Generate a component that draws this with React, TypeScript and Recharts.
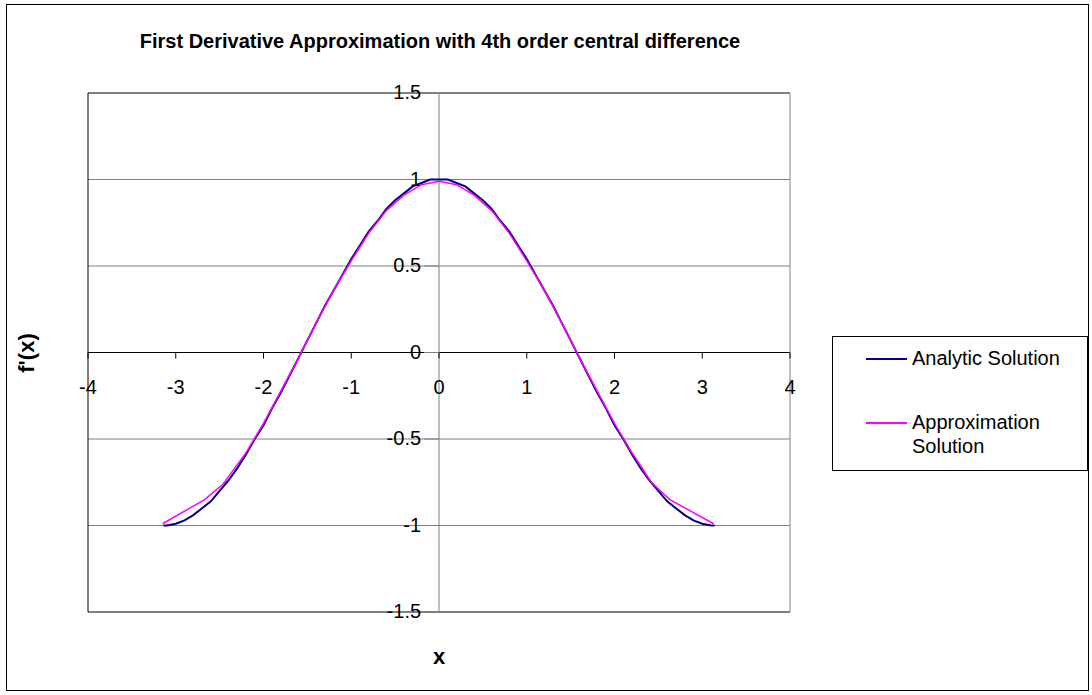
import { LineChart, Line, XAxis, YAxis, ReferenceLine } from 'recharts';

// x values and f'(x)
const analyticX = [
  -3.14, -3.1, -3.0, -2.9, -2.8, -2.7, -2.6, -2.5, -2.4, -2.3, -2.2, -2.1, -2.0, -1.9, -1.8, -1.7, -1.6, -1.5,
  -1.4, -1.3, -1.2, -1.1, -1.0, -0.9, -0.8, -0.7, -0.6, -0.5, -0.4, -0.3, -0.2, -0.1, 0, 0.1, 0.2, 0.3, 0.4,
  0.5, 0.6, 0.7, 0.8, 0.9, 1.0, 1.1, 1.2, 1.3, 1.4, 1.5, 1.6, 1.7, 1.8, 1.9, 2.0, 2.1, 2.2, 2.3, 2.4, 2.5, 2.6,
  2.7, 2.8, 2.9, 3.0, 3.1, 3.14,
];
const analyticY = [
  -1.0, -1.0, -0.99, -0.97, -0.94, -0.9, -0.86, -0.8, -0.74, -0.67, -0.59, -0.5, -0.42, -0.32, -0.23, -0.13,
  -0.03, 0.07, 0.17, 0.27, 0.36, 0.45, 0.54, 0.62, 0.7, 0.76, 0.83, 0.88, 0.92, 0.96, 0.98, 1.0, 1.0, 1.0, 0.98,
  0.96, 0.92, 0.88, 0.83, 0.76, 0.7, 0.62, 0.54, 0.45, 0.36, 0.27, 0.17, 0.07, -0.03, -0.13, -0.23, -0.32, -0.42,
  -0.5, -0.59, -0.67, -0.74, -0.8, -0.86, -0.9, -0.94, -0.97, -0.99, -1.0, -1.0,
];
const approxX = [
  -3.15, -2.67, -2.46, -2.2, -2.0, -1.8, -1.6, -1.4, -1.2, -1.0, -0.8, -0.6, -0.4, -0.2, 0, 0.2, 0.4, 0.6, 0.8,
  1.0, 1.2, 1.4, 1.6, 1.8, 2.0, 2.2, 2.42, 2.63, 3.13,
];
const approxY = [
  -0.99, -0.85, -0.76, -0.58, -0.41, -0.22, -0.03, 0.17, 0.36, 0.53, 0.69, 0.82, 0.91, 0.97, 0.99, 0.97, 0.91,
  0.82, 0.69, 0.53, 0.36, 0.17, -0.03, -0.22, -0.41, -0.58, -0.75, -0.85, -0.99,
];
const xTicks = [-4, -3, -2, -1, 0, 1, 2, 3, 4];
const yTicks = [-1.5, -1, -0.5, 0, 0.5, 1, 1.5];

const analytic = analyticX.map((x, i) => ({ x, y: analyticY[i] }));
const approx = approxX.map((x, i) => ({ x, y: approxY[i] }));

const FONT = 'Arial, "Liberation Sans", Helvetica, sans-serif';

function XTickLabel({ viewBox, value }: any) {
  return (
    <text x={viewBox.x} y={viewBox.y + 41} textAnchor="middle" fontSize={20} fontFamily={FONT} fill="#000">
      {value}
    </text>
  );
}

function YTickLabel({ viewBox, value }: any) {
  return (
    <text x={viewBox.x - 3} y={viewBox.y + 6} textAnchor="end" fontSize={20} fontFamily={FONT} fill="#000">
      {value}
    </text>
  );
}

function LegendBox() {
  const row = (color: string, label: string[]) => (
    <div style={{ display: 'flex', alignItems: 'flex-start', marginLeft: 33 }}>
      <div style={{ width: 41, height: 0, borderTop: `2px solid ${color}`, marginTop: 10 }} />
      <div style={{ marginLeft: 5, lineHeight: '24px', marginTop: -2 }}>
        {label.map((l) => (
          <div key={l}>{l}</div>
        ))}
      </div>
    </div>
  );
  return (
    <div
      style={{
        position: 'absolute',
        left: 832,
        top: 336,
        width: 254,
        height: 122,
        border: '1px solid #000',
        fontFamily: FONT,
        fontSize: 20,
        color: '#000',
        paddingTop: 11,
        background: '#fff',
      }}
    >
      {row('#000080', ['Analytic Solution'])}
      <div style={{ height: 42 }} />
      {row('#FF00FF', ['Approximation', 'Solution'])}
    </div>
  );
}

export default function App() {
  return (
    <div style={{ position: 'absolute', left: 0, top: 0, width: 1092, height: 695, background: '#fff' }}>
      <div
        style={{
          position: 'absolute',
          left: 6,
          top: 4,
          width: 1081,
          height: 685,
          border: '1px solid #000',
        }}
      />
      <div
        style={{
          position: 'absolute',
          left: 0,
          width: 880,
          top: 30,
          textAlign: 'center',
          fontFamily: FONT,
          fontWeight: 'bold',
          fontSize: 20,
        }}
      >
        First Derivative Approximation with 4th order central difference
      </div>
      <div
        style={{
          position: 'absolute',
          left: 27,
          top: 353,
          transform: 'translate(-50%, -50%) rotate(-90deg)',
          fontFamily: FONT,
          fontWeight: 'bold',
          fontSize: 22,
        }}
      >
        f'(x)
      </div>
      <div
        style={{
          position: 'absolute',
          left: 439,
          top: 657,
          transform: 'translate(-50%, -50%)',
          fontFamily: FONT,
          fontWeight: 'bold',
          fontSize: 22,
        }}
      >
        x
      </div>
      <LineChart
        width={1092}
        height={695}
        margin={{ top: 93, left: 88, right: 302, bottom: 83 }}
        style={{ position: 'absolute', left: 0, top: 0 }}
      >
        <XAxis type="number" dataKey="x" domain={[-4, 4]} hide allowDataOverflow />
        <YAxis type="number" dataKey="y" domain={[-1.5, 1.5]} hide allowDataOverflow />
        {yTicks.map((v) => (
          <ReferenceLine
            key={`g${v}`}
            y={v}
            stroke={v === 1.5 || v === -1.5 || v === 0 ? '#000' : '#808080'}
            strokeWidth={1}
          />
        ))}
        <ReferenceLine x={-4} stroke="#000" />
        <ReferenceLine x={4} stroke="#808080" />
        <ReferenceLine x={0} stroke="#808080" />
        {xTicks.map((v) => (
          <ReferenceLine
            key={`xt${v}`}
            segment={[
              { x: v, y: 0 },
              { x: v, y: -0.035 },
            ]}
            stroke="#000"
            label={<XTickLabel value={v} />}
          />
        ))}
        {yTicks.map((v) => (
          <ReferenceLine
            key={`yt${v}`}
            segment={[
              { x: -0.17, y: v },
              { x: 0, y: v },
            ]}
            stroke="#808080"
            label={<YTickLabel value={v} />}
          />
        ))}
        <Line
          data={analytic}
          dataKey="y"
          name="Analytic Solution"
          stroke="#000080"
          strokeWidth={2}
          dot={false}
          isAnimationActive={false}
        />
        <Line
          data={approx}
          dataKey="y"
          name="Approximation Solution"
          stroke="#FF00FF"
          strokeWidth={1.5}
          dot={false}
          isAnimationActive={false}
        />
      </LineChart>
      <LegendBox />
    </div>
  );
}
